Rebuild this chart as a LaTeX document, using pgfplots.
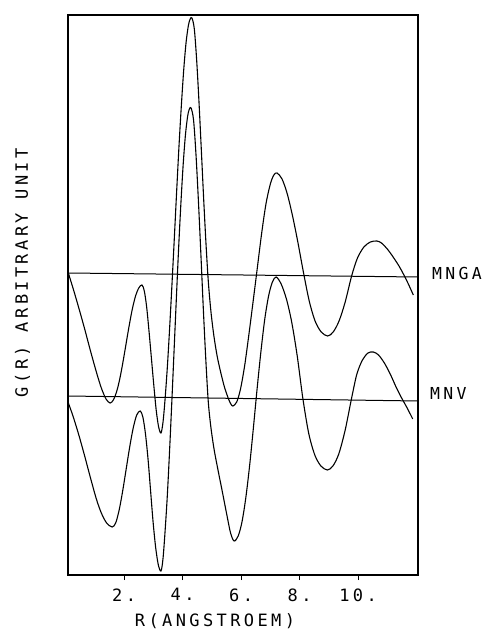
\documentclass[border=0pt]{standalone}
\usepackage{fontspec}
\setmainfont{DejaVu Sans Mono}[LetterSpace=20]
\usepackage{pgfplots}
\pgfplotsset{compat=1.18}
\begin{document}
\begin{tikzpicture}
\path[use as bounding box] (-68pt,-57pt) rectangle (418pt,575pt);
\begin{axis}[
  scale only axis, width=350pt, height=560pt,
  xmin=0.08, xmax=12.05, ymin=0, ymax=560,
  axis line style={line width=1.1pt},
  xtick={2,4,6,8,10}, xticklabels={{2.},{4.},{6.},{8.},{10.}},
  ytick=\empty, xtick pos=bottom, tick align=outside,
  major tick length=5pt, tick style={line width=1pt,black},
  xticklabel style={font=\fontsize{17}{18}\selectfont, yshift=-5pt},
  xlabel={R(ANGSTROEM)},
  every axis x label/.style={at={(axis description cs:0.42,-0.083)}, anchor=center, font=\fontsize{17}{18}\selectfont},
  ylabel={G(R) ARBITRARY UNIT},
  every axis y label/.style={at={(axis description cs:-0.13,0.54)}, anchor=center, rotate=90, font=\fontsize{17}{18}\selectfont},
  clip=false,
]
% baselines
\addplot[black, line width=1pt] coordinates {(0.08,302) (12.05,298)};
\addplot[black, line width=1pt] coordinates {(0.08,179) (12.05,174)};
% MNGA
\addplot[black, line width=1.1pt, smooth] table[y expr=\thisrowno{1}+301] {
0.08 2
0.25 -14
0.45 -34
0.65 -55
0.85 -77
1.05 -98
1.22 -114
1.38 -125
1.52 -129
1.63 -126
1.74 -118
1.85 -105
1.96 -88
2.065 -70
2.17 -52
2.28 -35
2.39 -22
2.50 -14
2.61 -11
2.69 -17
2.77 -33
2.85 -57
2.935 -85
3.02 -113
3.10 -137
3.18 -153
3.26 -159
3.33 -148
3.40 -125
3.48 -92
3.56 -52
3.64 -8
3.72 38
3.80 85
3.88 130
3.96 170
4.04 205
4.12 232
4.20 249
4.26 255
4.32 256
4.40 245
4.48 214
4.56 172
4.64 124
4.72 75
4.80 30
4.88 -8
4.97 -38
5.07 -62
5.18 -82
5.30 -98
5.43 -113
5.57 -125
5.65 -130
5.72 -132
5.85 -128
5.98 -115
6.12 -92
6.26 -62
6.40 -30
6.55 5
6.70 40
6.85 70
7.00 90
7.12 99
7.23 101
7.40 95
7.58 80
7.76 58
7.94 32
8.13 2
8.33 -27
8.53 -47
8.74 -58
8.96 -62
9.15 -58
9.35 -47
9.56 -28
9.78 -2
9.98 16
10.20 27
10.42 32
10.64 33
10.80 31
11.00 25
11.20 17
11.40 8
11.55 0
11.72 -10
11.89 -21
};
% MNV
\addplot[black, line width=1.1pt, smooth] table[y expr=\thisrowno{1}+177] {
0.08 -4
0.25 -18
0.45 -37
0.65 -58
0.85 -80
1.05 -101
1.22 -115
1.40 -125
1.59 -129
1.71 -125
1.83 -112
1.95 -93
2.07 -71
2.19 -49
2.31 -30
2.43 -17
2.55 -13
2.64 -19
2.73 -36
2.82 -62
2.905 -93
2.99 -124
3.08 -150
3.17 -167
3.26 -173
3.328 -161
3.396 -135
3.474 -99
3.552 -54
3.629 -5
3.707 47
3.785 99
3.862 149
3.94 194
4.018 233
4.096 263
4.173 282
4.232 289
4.29 290
4.374 278
4.458 243
4.542 196
4.626 143
4.71 88
4.794 38
4.878 -4
4.97 -30
5.08 -52
5.21 -72
5.36 -94
5.52 -118
5.64 -135
5.76 -143
5.90 -138
6.03 -124
6.16 -100
6.29 -68
6.42 -30
6.55 10
6.68 47
6.81 79
6.94 102
7.07 116
7.20 121
7.37 114
7.55 99
7.73 76
7.92 42
8.11 0
8.31 -35
8.52 -57
8.73 -68
8.95 -72
9.14 -68
9.34 -56
9.56 -32
9.78 0
9.96 24
10.15 38
10.34 45
10.52 46
10.70 43
10.90 35
11.10 24
11.30 11
11.49 0
11.68 -10
11.87 -21
};
\node[anchor=west, inner sep=0pt, font=\fontsize{16.5}{18}\selectfont] at ([xshift=14pt]axis cs:12.05,302) {MNGA};
\node[anchor=west, inner sep=0pt, font=\fontsize{16.5}{18}\selectfont] at ([xshift=12pt]axis cs:12.05,182) {MNV};
\end{axis}
\end{tikzpicture}
\end{document}
